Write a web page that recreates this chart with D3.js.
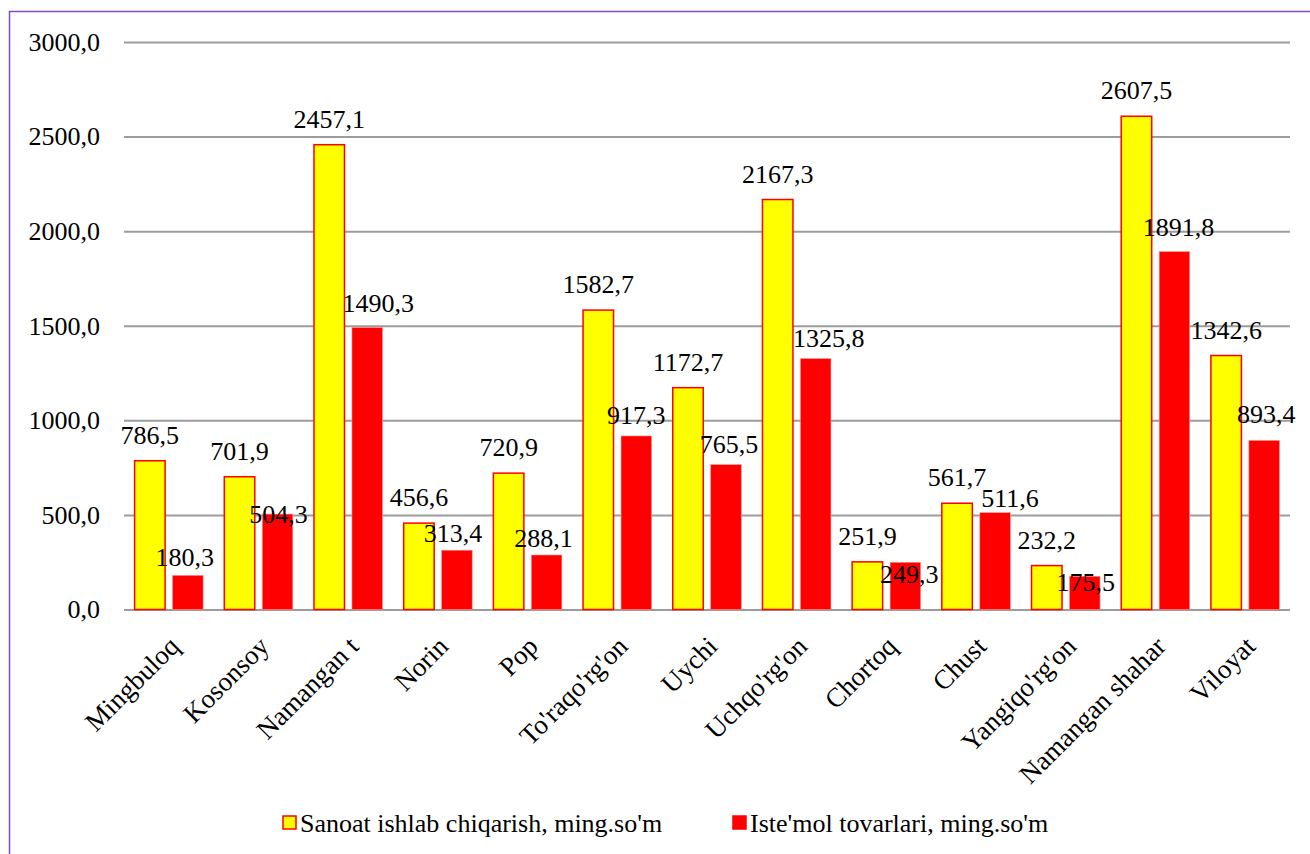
<!DOCTYPE html>
<html>
<head>
<meta charset="utf-8">
<script src="https://cdn.jsdelivr.net/npm/d3@7"></script>
<style>
  body { margin: 0; background: #fff; }
  svg text { font-family: "Liberation Serif", Tinos, "Times New Roman", Times, "DejaVu Serif", serif !important; fill: #000; }
</style>
</head>
<body>
<svg id="chart"></svg>
<script>
// data
var categories = ["Mingbuloq", "Kosonsoy", "Namangan t", "Norin", "Pop", "To'raqo'rg'on", "Uychi",
                  "Uchqo'rg'on", "Chortoq", "Chust", "Yangiqo'rg'on", "Namangan shahar", "Viloyat"];
var sanoat  = [786.5, 701.9, 2457.1, 456.6, 720.9, 1582.7, 1172.7, 2167.3, 251.9, 561.7, 232.2, 2607.5, 1342.6];
var istemol = [180.3, 504.3, 1490.3, 313.4, 288.1, 917.3, 765.5, 1325.8, 249.3, 511.6, 175.5, 1891.8, 893.4];
var seriesNames = ["Sanoat ishlab chiqarish, ming.so'm", "Iste'mol tovarlari, ming.so'm"];
var yTicks = [0, 500, 1000, 1500, 2000, 2500, 3000];

// the red series labels were moved by hand in the original, [dx, dy]
var redLabelNudge = [[-3, 8], [1, 26], [11, 1], [-4, 9], [-3, 9], [0, 5], [3, 5],
                     [13, 5], [4, 38], [15, 11], [1, 32], [4, 1], [2, 0]];

var W = 1310, H = 854;
var FONT = "'Liberation Serif', Tinos, 'Times New Roman', Times, 'DejaVu Serif', serif";
var svg = d3.select("#chart").attr("width", W).attr("height", H)
    .attr("font-family", FONT);

var plotLeft = 124, plotRight = 1290, plotTop = 42, plotBottom = 609.5;

var fmt = function(v) { return d3.format(".1f")(v).replace(".", ","); };

var x = d3.scaleBand().domain(categories).range([plotLeft, plotRight]);
var xs = d3.scaleBand().domain([0, 1]).range([0, x.bandwidth()])
    .paddingInner(0.197).paddingOuter(0.279);
var y = d3.scaleLinear().domain([0, 3000]).range([plotBottom, plotTop]);

// outer frame
svg.append("rect")
    .attr("x", 9.5).attr("y", 11.5)
    .attr("width", W + 20).attr("height", H + 20)
    .attr("fill", "none")
    .attr("stroke", "#7f4fbf")
    .attr("stroke-width", 1.5);

// grid + y labels
var yAxis = d3.axisLeft(y).tickValues(yTicks).tickSize(-(plotRight - plotLeft)).tickFormat(fmt).tickPadding(24);
var gy = svg.append("g").attr("transform", "translate(" + plotLeft + ",0)").call(yAxis)
    .attr("font-family", FONT).attr("font-size", 26);
gy.select(".domain").remove();
gy.selectAll(".tick line").attr("stroke", "#9c9c9c").attr("stroke-width", 2);
gy.selectAll(".tick text").attr("fill", "#000");

var rows = categories.map(function(c, i) {
  return { cat: c, i: i, vals: [sanoat[i], istemol[i]] };
});

var groups = svg.append("g").selectAll("g")
    .data(rows).enter().append("g")
    .attr("transform", function(d) { return "translate(" + x(d.cat) + ",0)"; });

groups.selectAll("rect")
    .data(function(d) { return d.vals.map(function(v, k) { return { k: k, v: v }; }); })
    .enter().append("rect")
    .attr("x", function(d) { return xs(d.k); })
    .attr("y", function(d) { return y(d.v); })
    .attr("width", xs.bandwidth())
    .attr("height", function(d) { return y(0) - y(d.v); })
    .attr("fill", function(d) { return d.k === 0 ? "#ffff00" : "#ff0000"; })
    .attr("stroke", function(d) { return d.k === 0 ? "#ff0000" : "#ff8c8c"; })
    .attr("stroke-width", function(d) { return d.k === 0 ? 1.5 : 0.6; });

// value labels
groups.selectAll("text.val")
    .data(function(d) { return d.vals.map(function(v, k) { return { k: k, v: v, i: d.i }; }); })
    .enter().append("text")
    .attr("class", "val")
    .attr("text-anchor", "middle")
    .attr("font-size", "26px")
    .attr("x", function(d) {
      var n = d.k === 1 ? redLabelNudge[d.i][0] : 0;
      return xs(d.k) + xs.bandwidth() / 2 + n;
    })
    .attr("y", function(d) {
      var n = d.k === 1 ? redLabelNudge[d.i][1] : 0;
      return y(d.v) - 17 + n;
    })
    .text(function(d) { return fmt(d.v); });

// category labels
svg.append("g").selectAll("text")
    .data(categories).enter().append("text")
    .attr("text-anchor", "end")
    .attr("font-size", "27px")
    .attr("transform", function(d) {
      return "translate(" + (x(d) + x.bandwidth() / 2 + 12) + ",648) rotate(-45)";
    })
    .text(function(d) { return d; });

// legend
var legend = [
  { name: seriesNames[0], fill: "#ffff00", stroke: "#ff0000", sx: 283 },
  { name: seriesNames[1], fill: "#ff0000", stroke: "#ff0000", sx: 733 }
];
var lg = svg.append("g").selectAll("g").data(legend).enter().append("g");
lg.append("rect")
    .attr("x", function(d) { return d.sx; }).attr("y", 816)
    .attr("width", 13).attr("height", 13)
    .attr("fill", function(d) { return d.fill; })
    .attr("stroke", function(d) { return d.stroke; })
    .attr("stroke-width", 1.5);
lg.append("text")
    .attr("x", function(d) { return d.sx + 17; })
    .attr("y", 832)
    .attr("font-size", "26px")
    .text(function(d) { return d.name; });
</script>
</body>
</html>
